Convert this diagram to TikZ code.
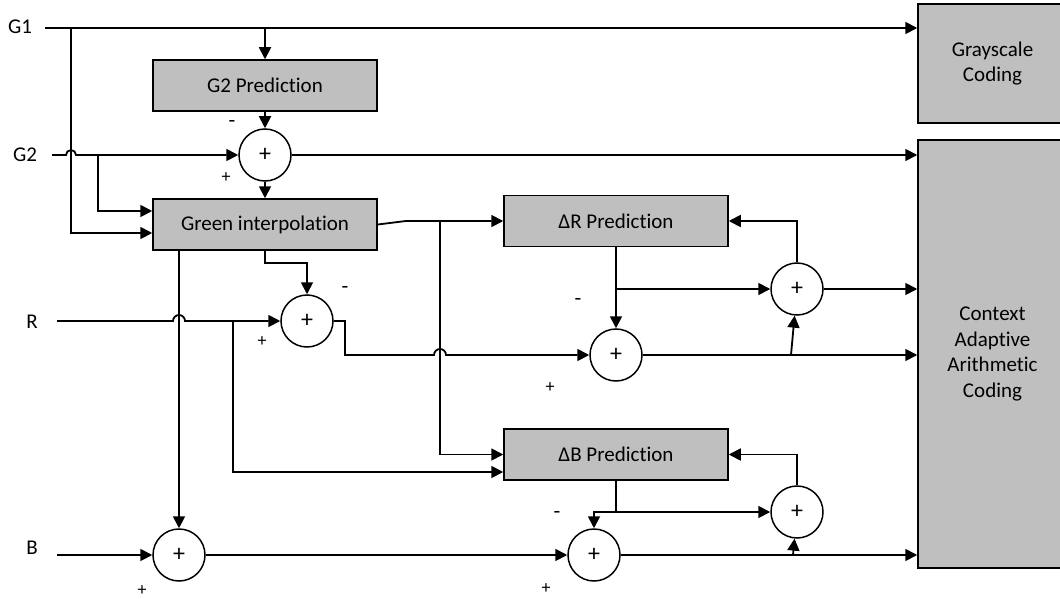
\documentclass[tikz,border=0pt]{standalone}
\usepackage{fontspec}
\setmainfont{Carlito}[Ligatures=NoCommon]
\usepackage{xcolor}
\usepackage{tikz}
\usetikzlibrary{positioning, arrows.meta, calc}
\definecolor{boxgray}{RGB}{191,191,191}
\tikzset{
  box/.style  ={draw, fill=boxgray, line width=1.5pt, minimum width=224pt,
                minimum height=51pt, inner sep=0pt, font=\fontsize{21}{25.5}\selectfont},
  coder/.style={draw, fill=boxgray, line width=1.5pt, minimum width=149pt,
                align=center, inner sep=0pt, font=\fontsize{21}{25.5}\selectfont},
  sum/.style  ={draw, circle, fill=white, line width=1.5pt, minimum size=52pt,
                inner sep=0pt, font=\fontsize{24}{24}\selectfont},
  sgn/.style  ={inner sep=0pt, font=\fontsize{18}{18}\selectfont},
  neg/.style  ={inner sep=0pt, font=\fontsize{22}{22}\selectfont},
  lbl/.style  ={inner sep=0pt, font=\fontsize{21}{21}\selectfont},
  flow/.style ={-{Triangle[length=12pt,width=12pt]}, line width=1.8pt},
}

\begin{document}
\begin{tikzpicture}[x=1pt, y=1pt]
  \clip (0,0) rectangle (1060,-599);
  % inputs
  \node[lbl] (lG1) at (20,-27)  {G1};
  \node[lbl] (lG2) at (25,-155) {G2};
  \node[lbl] (lR)  at (32,-322) {R};
  \node[lbl] (lB)  at (32,-548) {B};
  \coordinate (g1in) at (45,-28);
  \coordinate (g2in) at (52,-155);
  \coordinate (rin)  at (57,-321);
  \coordinate (bin)  at (57,-555);
  % blocks
  \node[box] (g2pred)   at (265,-85.5)  {G2 Prediction};
  \node[box] (greenint) at (265,-224.5) {Green interpolation};
  \node[box] (dRpred)   at (616,-221)   {ΔR Prediction};
  \node[box] (dBpred)   at (616,-454.5) {ΔB Prediction};
  \node[coder, minimum height=119pt] (gray)  at (992.5,-63.5) {Grayscale\\Coding};
  \node[coder, minimum height=428pt] (cabac) at (992.5,-354)  {Context\\Adaptive\\Arithmetic\\Coding};
  % adders
  \node[sum] (sG2) at (265,-155) {+};
  \node[sum] (sR)  at (307,-321) {+};
  \node[sum] (sdR) at (616,-355) {+};
  \node[sum] (sRr) at (797,-289) {+};
  \node[sum] (sB)  at (179,-555) {+};
  \node[sum] (sdB) at (594,-555) {+};
  \node[sum] (sBr) at (797,-512) {+};
  % branch points
  \coordinate (g1v) at (71,-28);
  \coordinate (g2v) at (98,-155);
  \coordinate (gv)  at (440,-221);
  \coordinate (rv)  at (233,-321);
  \coordinate (dRb) at (616,-289);
  \coordinate (dBb) at (616,-512);
  \coordinate (rup) at (791,-355);
  \coordinate (bup) at (793,-555);
  % G1 and G2
  \draw[flow] (g1in) -- (gray.west |- g1in);
  \draw[flow] (g1in -| g2pred) -- (g2pred);
  \draw[flow] (g1v) |- ([yshift=-8.5pt]greenint.west);
  \draw[flow] (g2in) -- ($(g2in -| g1v)+(-5,0)$) arc[start angle=180, end angle=0, radius=5] -- (sG2);
  \draw[flow] (g2v) |- ([yshift=13.5pt]greenint.west);
  \draw[flow] (g2pred) -- (sG2);
  \draw[flow] (sG2) -- (greenint);
  \draw[flow] (sG2) -- (cabac.west |- sG2);
  % green interpolation outputs
  \draw[flow] (greenint.east) -- ++(28,3.5) -- (dRpred.west);
  \draw[flow] (gv) |- (dBpred.west);
  \draw[flow] (greenint.south -| sB) -- (sB);
  \draw[flow] (greenint.south) -- ++(0,-12) -| (sR);
  % R
  \draw[flow] (rin) -- ($(rin -| sB)+(-6,0)$) arc[start angle=180, end angle=0, radius=6] -- (sR);
  \draw[flow] (rv) |- ([yshift=-17.5pt]dBpred.west);
  \draw[flow] (sR) -- ++(38,0) -- ++(0,-34) -- ($(gv |- sdR)+(-6,0)$) arc[start angle=180, end angle=0, radius=6] -- (sdR);
  \draw[flow] (dRpred) -- (sdR);
  \draw[flow] (dRb) -- (sRr);
  \draw[flow] (sRr) |- (dRpred.east);
  \draw[flow] (sRr) -- (cabac.west |- sRr);
  \draw[flow] (sdR) -- (cabac.west |- sdR);
  \draw[flow] (rup) -- (sRr);
  % B
  \draw[flow] (bin) -- (sB);
  \draw[flow] (sB) -- (sdB);
  \draw[flow] (dBpred.south) -- (dBb) -| (sdB);
  \draw[flow] (dBb) -- (sBr);
  \draw[flow] (sBr) |- (dBpred.east);
  \draw[flow] (sdB) -- (cabac.west |- sdB);
  \draw[flow] (bup) -- (sBr);
  % signs
  \node[neg] (mG2) at (232,-124) {-};
  \node[sgn] (pG2) at (226,-178) {+};
  \node[neg] (mR)  at (345,-290) {-};
  \node[sgn] (pR)  at (262,-342) {+};
  \node[neg] (mdR) at (578,-302) {-};
  \node[sgn] (pdR) at (550,-388) {+};
  \node[neg] (mdB) at (557,-515) {-};
  \node[sgn] (pdB) at (546,-589) {+};
  \node[sgn] (pB)  at (142,-591) {+};
\end{tikzpicture}
\end{document}
